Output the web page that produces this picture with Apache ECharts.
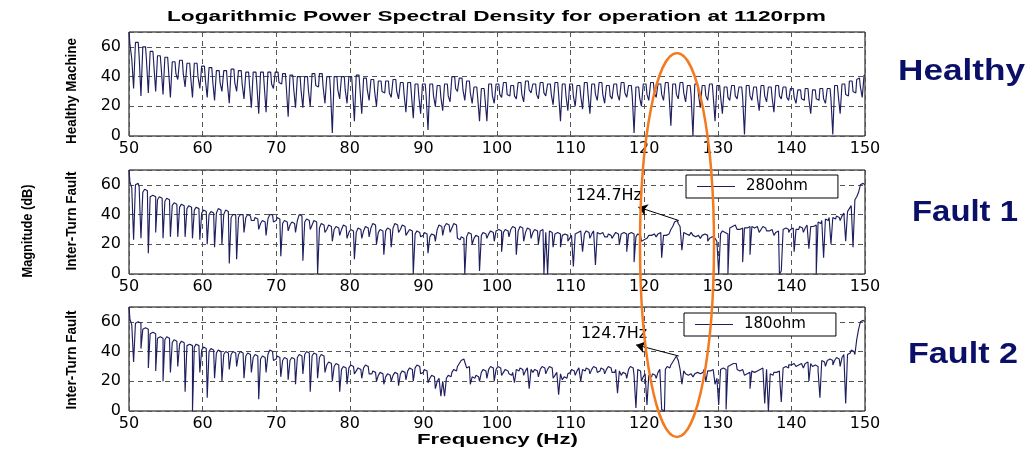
<!DOCTYPE html>
<html><head><meta charset="utf-8">
<script src="https://cdn.jsdelivr.net/npm/echarts@6/dist/echarts.min.js"></script>
<style>html,body{margin:0;padding:0;background:#fff}#c{width:1036px;height:452px}</style>
</head><body><div id="c"></div><script>
// ---- data (dB), sampled every 0.25 Hz from 50 Hz to 150 Hz ----
const freqStart = 50;
const freqStep = 0.25;
const xTickLabels = [50, 60, 70, 80, 90, 100, 110, 120, 130, 140, 150];
const yTickLabels = [0, 20, 40, 60];
const seriesNames = ['Healthy', '280ohm', '180ohm'];
const panelNames = ['Healthy Machine', 'Inter-Turn Fault', 'Inter-Turn Fault'];
const sideLabels = ['Healthy', 'Fault 1', 'Fault 2'];
const peakLabel = '124.7Hz';
const peakFreq = 124.7;
const peakValues = [36, 37];

const healthy = [
70,62,52,32, 63,63,54,27, 60,60,51,29, 57,57,48,30, 54,54,46,28,
53,53,44,26, 50,50,42,38, 51,51,42,33, 49,49,40,26, 49,49,40,32,
47,47,38,26, 46,46,37,24, 44,44,36,30, 44,44,35,22, 45,45,36,30,
44,44,35,25, 43,43,34,19, 43,43,34,15, 43,43,34,16, 43,43,35,32,
43,43,36,35, 42,42,33,13, 41,41,32,19, 40,40,31,19, 40,40,31,20,
42,42,34,33, 42,42,33,22, 40,40,31,2, 40,40,31,25, 40,40,31,22,
40,40,31,10, 41,41,32,15, 39,39,31,24, 38,38,30,20, 37,37,30,29,
37,37,29,26, 38,38,30,25, 36,36,28,16, 36,36,28,12, 35,35,27,15,
35,35,27,4, 35,35,27,20, 34,34,26,17, 35,35,27,23, 40,40,32,30,
39,39,31,24, 37,37,29,22, 33,33,26,10, 32,32,25,10, 35,35,27,22,
35,35,28,26, 36,36,28,27, 34,34,27,25, 36,36,28,23, 37,37,31,29,
35,35,28,25, 36,36,29,27, 35,35,28,21, 36,36,28,10, 35,35,27,17,
35,35,27,20, 34,34,27,18, 36,36,28,15, 35,35,28,24, 36,36,28,22,
34,34,27,25, 35,35,28,24, 36,36,29,26, 34,34,27,2, 33,33,26,20,
35,35,28,24, 36,36,29,26, 35,35,28,24, 36,36,28,7, 35,35,28,25,
36,36,29,23, 34,34,27,0, 35,35,28,19, 34,34,27,24, 35,35,27,10,
34,34,27,15, 33,33,26,24, 34,34,27,25, 33,33,26,1, 34,34,27,24,
33,33,26,17, 34,34,27,23, 33,33,26,16, 34,34,27,25, 33,33,26,24,
32,32,26,22, 31,31,25,24, 32,32,25,15, 31,31,25,24, 32,32,25,22,
32,32,25,1, 34,34,27,15, 35,35,28,27, 37,37,30,29, 38,39,33,26,
41
];

const fault280 = [
70,62,58,23, 60,61,59,24, 55,57,56,14, 52,53,52,28, 50,52,51,24,
49,51,50,25, 46,48,47,25, 45,47,46,25, 44,46,45,24, 43,45,44,23,
41,43,42,20, 40,42,41,18, 41,44,43,20, 40,43,42,7, 38,40,40,10,
38,40,40,28, 38,40,39,36, 36,38,37,30, 34,36,35,26, 37,40,40,35,
36,38,37,12, 34,36,35,29, 33,35,34,28, 36,40,39,9, 35,37,36,30,
33,36,35,0, 31,34,33,28, 30,33,32,22, 30,32,31,26, 30,33,32,24,
28,30,29,10, 28,31,30,24, 29,32,31,25, 31,34,33,20, 28,30,29,13,
29,31,30,18, 31,34,33,28, 30,33,32,26, 28,30,29,0, 27,29,28,25,
26,28,27,14, 25,27,26,22, 30,33,32,26, 32,34,33,28, 31,34,33,24,
23,25,24,0, 25,28,27,20, 24,26,25,2, 26,28,27,24, 27,29,28,22,
29,30,29,15, 28,30,29,25, 30,32,31,13, 29,32,31,22, 28,31,30,24,
28,30,29,20, 29,30,0,28, 0,29,28,18, 27,28,27,18, 26,27,26,22,
24,26,5,27, 28,29,28,15, 27,29,28,24, 27,29,6,28, 27,28,27,25,
25,27,26,24, 26,28,27,20, 27,28,27,15, 27,28,27,8, 25,27,26,22,
23,24,25,26, 26,27,27,25, 27,28,11,26, 26,27,26,30, 32,35,36,34,
32,16,28,27, 26,27,28,26, 25,26,27,24, 26,27,26,22, 24,25,24,23,
22,0,27,29, 28,27,0,31, 32,33,32,30, 30,31,8,31, 31,32,13,32,
31,32,31,28, 30,32,31,29, 29,30,29,26, 28,29,0,2, 30,31,30,28,
30,31,15,30, 30,32,31,28, 31,33,17,32, 32,33,0,35, 34,36,11,37,
36,38,20,38, 37,39,38,36, 39,41,22,42, 44,46,18,50, 52,55,60,61,
60
];

const fault180 = [
70,62,58,33, 59,60,59,42, 55,56,55,29, 52,53,52,27, 49,50,49,20,
48,50,49,26, 46,48,47,30, 45,47,46,13, 44,45,44,0, 43,45,44,26,
41,43,42,9, 40,42,41,22, 39,41,40,20, 38,40,39,28, 38,40,39,30,
38,40,39,22, 37,39,38,26, 36,38,37,8, 35,37,36,26, 38,41,40,34,
35,37,36,23, 34,36,35,21, 34,36,35,18, 36,38,37,25, 38,40,39,13,
37,39,38,22, 36,38,37,26, 31,33,32,20, 30,32,31,13, 28,30,29,18,
29,31,30,25, 27,29,28,22, 29,31,30,25, 25,27,26,20, 24,26,25,18,
23,25,24,20, 24,26,25,17, 25,27,26,21, 27,29,28,20, 29,31,30,25,
26,28,27,19, 22,24,23,15, 20,22,10,20, 10,22,24,23, 26,28,27,30,
32,34,35,33, 29,30,18,23, 22,24,23,20, 26,28,27,22, 28,30,29,20,
28,30,29,24, 26,28,27,25, 24,26,19,28, 27,29,28,24, 27,29,15,28,
26,28,27,23, 28,30,29,25, 28,30,29,22, 24,26,11,25, 21,23,22,25,
26,28,27,24, 27,29,20,28, 27,29,28,25, 28,30,29,26, 27,29,28,25,
28,30,29,26, 26,28,12,27, 24,26,25,22, 28,30,29,24, 2,28,27,20,
23,25,4,24, 23,25,24,22, 26,28,1,0, 28,30,29,31, 33,35,37,34,
28,18,27,25, 24,25,24,23, 25,26,25,24, 26,28,20,27, 27,28,27,18,
22,4,28,29, 28,1,30,31, 32,33,32,28, 27,28,27,24, 25,26,15,27,
26,27,26,28, 29,30,5,28, 0,25,24,26, 26,27,25,6, 29,30,29,31,
31,32,31,30, 31,32,31,29, 32,33,20,32, 30,31,30,27, 9,34,33,30,
34,35,34,31, 34,36,35,30, 36,38,5,38, 39,41,40,38, 48,55,60,61,
60
];

// ---- chart ----
const allData = [healthy, fault280, fault180];
const toPairs = arr => arr.map((v, i) => [freqStart + i * freqStep, v]);
const lineColor = '#1f1f60';
const gridTops = [32, 170, 307];
const gridH = 104;
const gL = 129, gR = 171;

const grids = gridTops.map(t => ({left: gL, right: gR, top: t, height: gridH, show: true,
  borderColor: '#000', borderWidth: 1, backgroundColor: '#fff'}));

const dash = {color: '#555', width: 1, type: [5, 4]};
const xAxes = gridTops.map((t, i) => ({
  type: 'value', gridIndex: i, min: xTickLabels[0], max: xTickLabels[xTickLabels.length - 1], interval: 10,
  axisLine: {show: false}, axisTick: {show: false},
  splitLine: {show: true, lineStyle: dash},
  axisLabel: {margin: 5, color: '#000', fontFamily: 'DejaVu Sans', fontSize: 16,
    formatter: v => xTickLabels.includes(v) ? String(v) : ''}
}));
const yAxes = gridTops.map((t, i) => ({
  type: 'value', gridIndex: i, min: 0, max: 70, interval: 20,
  axisLine: {show: false}, axisTick: {show: false},
  splitLine: {show: true, lineStyle: dash},
  axisLabel: {margin: 8, color: '#000', fontFamily: 'DejaVu Sans', fontSize: 16, showMaxLabel: false,
    formatter: v => yTickLabels.includes(v) ? String(v) : ''}
}));

const annotFont = {fontFamily: 'DejaVu Sans', fontSize: 16, color: '#000'};
function peakMarks(k) {
  const pv = peakValues[k];
  const tip = k === 0 ? [119.2, 45] : [118.9, 44.5];
  const txt = k === 0 ? [115.2, 52.5] : [115.9, 51.8];
  return {
    markLine: {silent: true, symbolSize: 9, animation: false,
      lineStyle: {color: '#000', width: 1, type: 'solid'}, label: {show: false},
      data: [[{coord: [peakFreq, pv], symbol: 'none'}, {coord: tip, symbol: 'arrow'}]]},
    markPoint: {silent: true, animation: false,
      data: [{coord: txt, symbol: 'rect', symbolSize: 1, itemStyle: {color: 'rgba(0,0,0,0)'},
        label: {show: true, position: 'inside', formatter: peakLabel, ...annotFont}}]}
  };
}

const series = allData.map((d, i) => Object.assign({
  name: seriesNames[i], type: 'line', xAxisIndex: i, yAxisIndex: i,
  data: toPairs(d), step: 'middle', symbol: 'none', showSymbol: false,
  lineStyle: {color: lineColor, width: 1.15}, itemStyle: {color: lineColor},
  animation: false
}, i > 0 ? peakMarks(i - 1) : {}));

const legendBase = {orient: 'horizontal', itemWidth: 38, itemHeight: 1, backgroundColor: '#fff',
  borderColor: '#000', borderWidth: 1, borderRadius: 0, padding: [4, 30, 4, 11],
  textStyle: {fontFamily: 'DejaVu Sans', fontSize: 15, color: '#000', padding: [0, 0, 0, 6]},
  selectedMode: false};
const legends = [
  Object.assign({}, legendBase, {data: [{name: seriesNames[1], icon: 'rect'}], left: 686, top: 175}),
  Object.assign({}, legendBase, {data: [{name: seriesNames[2], icon: 'rect'}], left: 684, top: 313})
];

// stretched text helper (the source figure text is horizontally wide)
const mctx = document.createElement('canvas').getContext('2d');
function wideText(text, font, left, cy, targetW, color, rot) {
  mctx.font = font;
  const w = mctx.measureText(text).width;
  const s = targetW / w;
  if (rot) {
    return {type: 'text', x: left, y: cy, rotation: Math.PI / 2, scaleX: s, silent: true,
      style: {text, font, fill: color, align: 'center', verticalAlign: 'middle'}};
  }
  return {type: 'text', x: left, y: cy, scaleX: s, silent: true,
    style: {text, font, fill: color, align: 'left', verticalAlign: 'middle'}};
}
const navy = '#0a1068';
const graphics = [
  wideText('Logarithmic Power Spectral Density for operation at 1120rpm', 'bold 14px "Liberation Sans"', 167, 17, 659, '#000'),
  wideText('Frequency (Hz)', 'bold 15px "Liberation Sans"', 417, 440, 161, '#000'),
  wideText('Magnitude (dB)', 'bold 14px "Liberation Sans"', 28, 231, 93, '#000', true),
  wideText(panelNames[0], 'bold 14px "Liberation Sans"', 72, 91, 106, '#000', true),
  wideText(panelNames[1], 'bold 14px "Liberation Sans"', 72, 221, 99, '#000', true),
  wideText(panelNames[2], 'bold 14px "Liberation Sans"', 72, 360, 99, '#000', true),
  wideText(sideLabels[0], 'bold 29px "Liberation Sans"', 898, 72, 127, navy),
  wideText(sideLabels[1], 'bold 29px "Liberation Sans"', 912, 213, 106, navy),
  wideText(sideLabels[2], 'bold 29px "Liberation Sans"', 908, 355, 110, navy),
  {type: 'ellipse', silent: true, z: 100, shape: {cx: 677, cy: 245, rx: 37, ry: 192},
    style: {fill: 'none', stroke: '#f47a1f', lineWidth: 2.5}}
];

const chart = echarts.init(document.getElementById('c'), null, {renderer: 'canvas'});
chart.setOption({
  animation: false,
  backgroundColor: '#fff',
  grid: grids, xAxis: xAxes, yAxis: yAxes, series, legend: legends, graphic: graphics
});
</script></body></html>
